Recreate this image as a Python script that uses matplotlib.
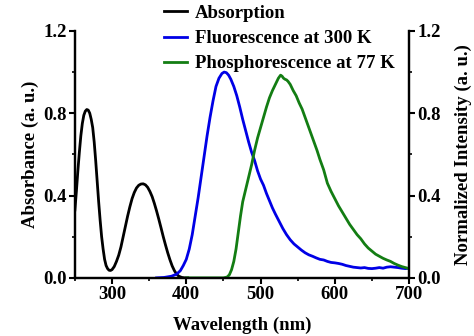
import numpy as np
import matplotlib.pyplot as plt
from matplotlib.ticker import MultipleLocator

# Absorption spectrum (black)
abs_wl = [250, 252, 254, 256, 258, 260, 262, 264, 266, 268, 270, 272, 274, 276,
          278, 280, 282, 284, 286, 288, 290, 292, 294, 296, 298, 300, 303, 306,
          309, 312, 315, 318, 321, 324, 327, 330, 333, 336, 339, 342, 345, 348,
          351, 354, 357, 360, 363, 366, 369, 372, 375, 378, 381, 384, 387, 390,
          394, 398, 402]
abs_val = [0.33, 0.42, 0.52, 0.61, 0.69, 0.75, 0.79, 0.81, 0.818, 0.815, 0.80,
           0.77, 0.73, 0.66, 0.57, 0.47, 0.37, 0.28, 0.20, 0.14, 0.09, 0.06,
           0.045, 0.037, 0.036, 0.04, 0.055, 0.08, 0.11, 0.15, 0.20, 0.25, 0.30,
           0.345, 0.385, 0.415, 0.437, 0.45, 0.456, 0.457, 0.452, 0.44, 0.42,
           0.395, 0.362, 0.325, 0.285, 0.243, 0.20, 0.16, 0.122, 0.088, 0.058,
           0.035, 0.018, 0.008, 0.002, 0.0, 0.0]

# Fluorescence at 300 K (blue)
fl_wl = [360, 370, 380, 387, 392, 396, 400, 404, 408, 412, 416, 420, 424, 428,
         432, 436, 440, 444, 448, 451, 454, 457, 460, 464, 468, 472, 476, 480,
         484, 488, 492, 496, 500, 504, 508, 512, 516, 520, 525, 530, 535, 540,
         545, 550, 555, 560, 565, 570, 575, 580, 585, 590, 595, 600, 605, 610,
         615, 620, 625, 630, 635, 640, 645, 650, 655, 660, 665, 670, 675, 680,
         685, 690, 695, 700]
fl_val = [0.0, 0.002, 0.008, 0.018, 0.035, 0.06, 0.09, 0.14, 0.21, 0.30, 0.39,
          0.49, 0.59, 0.69, 0.78, 0.86, 0.93, 0.97, 0.993, 1.0, 0.997, 0.985,
          0.965, 0.93, 0.885, 0.83, 0.77, 0.715, 0.66, 0.61, 0.57, 0.52, 0.48,
          0.45, 0.41, 0.375, 0.34, 0.31, 0.275, 0.24, 0.21, 0.185, 0.165, 0.15,
          0.135, 0.122, 0.112, 0.105, 0.097, 0.09, 0.087, 0.08, 0.075, 0.073,
          0.07, 0.066, 0.06, 0.056, 0.052, 0.05, 0.048, 0.05, 0.046, 0.045,
          0.047, 0.05, 0.047, 0.052, 0.054, 0.052, 0.05, 0.047, 0.045, 0.047]

# Phosphorescence at 77 K (green)
ph_wl = [400, 450, 455, 458, 461, 464, 467, 470, 473, 476, 480, 484, 488, 492,
         496, 500, 504, 508, 512, 516, 520, 524, 527, 529, 531, 533, 535, 537,
         540, 544, 548, 552, 556, 560, 564, 568, 572, 576, 580, 585, 590, 595,
         600, 605, 610, 615, 620, 625, 630, 635, 640, 645, 650, 655, 660, 665,
         670, 675, 680, 685, 690, 695, 700]
ph_val = [0.0, 0.0, 0.004, 0.015, 0.04, 0.08, 0.14, 0.22, 0.30, 0.37, 0.43,
          0.49, 0.55, 0.62, 0.68, 0.73, 0.78, 0.83, 0.875, 0.91, 0.94, 0.97,
          0.985, 0.98, 0.97, 0.965, 0.962, 0.955, 0.94, 0.91, 0.885, 0.85, 0.82,
          0.78, 0.74, 0.70, 0.66, 0.62, 0.575, 0.525, 0.46, 0.42, 0.385, 0.35,
          0.32, 0.29, 0.26, 0.235, 0.21, 0.19, 0.165, 0.145, 0.13, 0.115, 0.105,
          0.095, 0.087, 0.08, 0.07, 0.062, 0.055, 0.05, 0.045]

plt.rcParams['font.family'] = 'Liberation Serif'
plt.rcParams['font.weight'] = 'bold'
plt.rcParams['font.size'] = 13.5

fig = plt.figure(figsize=(4.74, 3.36), dpi=100)
ax = fig.add_axes([0.158, 0.173, 0.705, 0.735])
ax2 = ax.twinx()

l1, = ax.plot(abs_wl, abs_val, color='black', lw=2, label='Absorption')
l2, = ax2.plot(fl_wl, fl_val, color='#0000e6', lw=2, label='Fluorescence at 300 K')
l3, = ax2.plot(ph_wl, ph_val, color='#137d13', lw=2, label='Phosphorescence at 77 K')

for a in (ax, ax2):
    a.set_xlim(250, 700)
    a.set_ylim(0, 1.2)
    a.yaxis.set_major_locator(MultipleLocator(0.4))
    a.yaxis.set_minor_locator(MultipleLocator(0.2))
    a.spines['top'].set_visible(False)
    for s in a.spines.values():
        s.set_linewidth(1.6)
    a.tick_params(which='major', direction='out', length=4, width=1.5, pad=2,
                  labelsize=13.5)
    a.tick_params(which='minor', direction='out', length=2.5, width=1.2)
    a.yaxis.set_major_formatter(plt.FormatStrFormatter('%.1f'))

ax.xaxis.set_major_locator(MultipleLocator(100))
ax.xaxis.set_minor_locator(MultipleLocator(50))

ax.set_xlabel('Wavelength (nm)', fontweight='bold', labelpad=10)
ax.set_ylabel('Absorbance (a. u.)', fontweight='bold', labelpad=3)
ax2.set_ylabel('Normalized Intensity (a. u.)', fontweight='bold', labelpad=10)

fig.legend(handles=[l1, l2, l3], loc='upper left', bbox_to_anchor=(0.33, 1.008),
           frameon=False, handlelength=1.25, handletextpad=0.4,
           labelspacing=0.43, borderaxespad=0,
           prop={'weight': 'bold', 'size': 13.5})

fig.savefig('out.png', dpi=100)
